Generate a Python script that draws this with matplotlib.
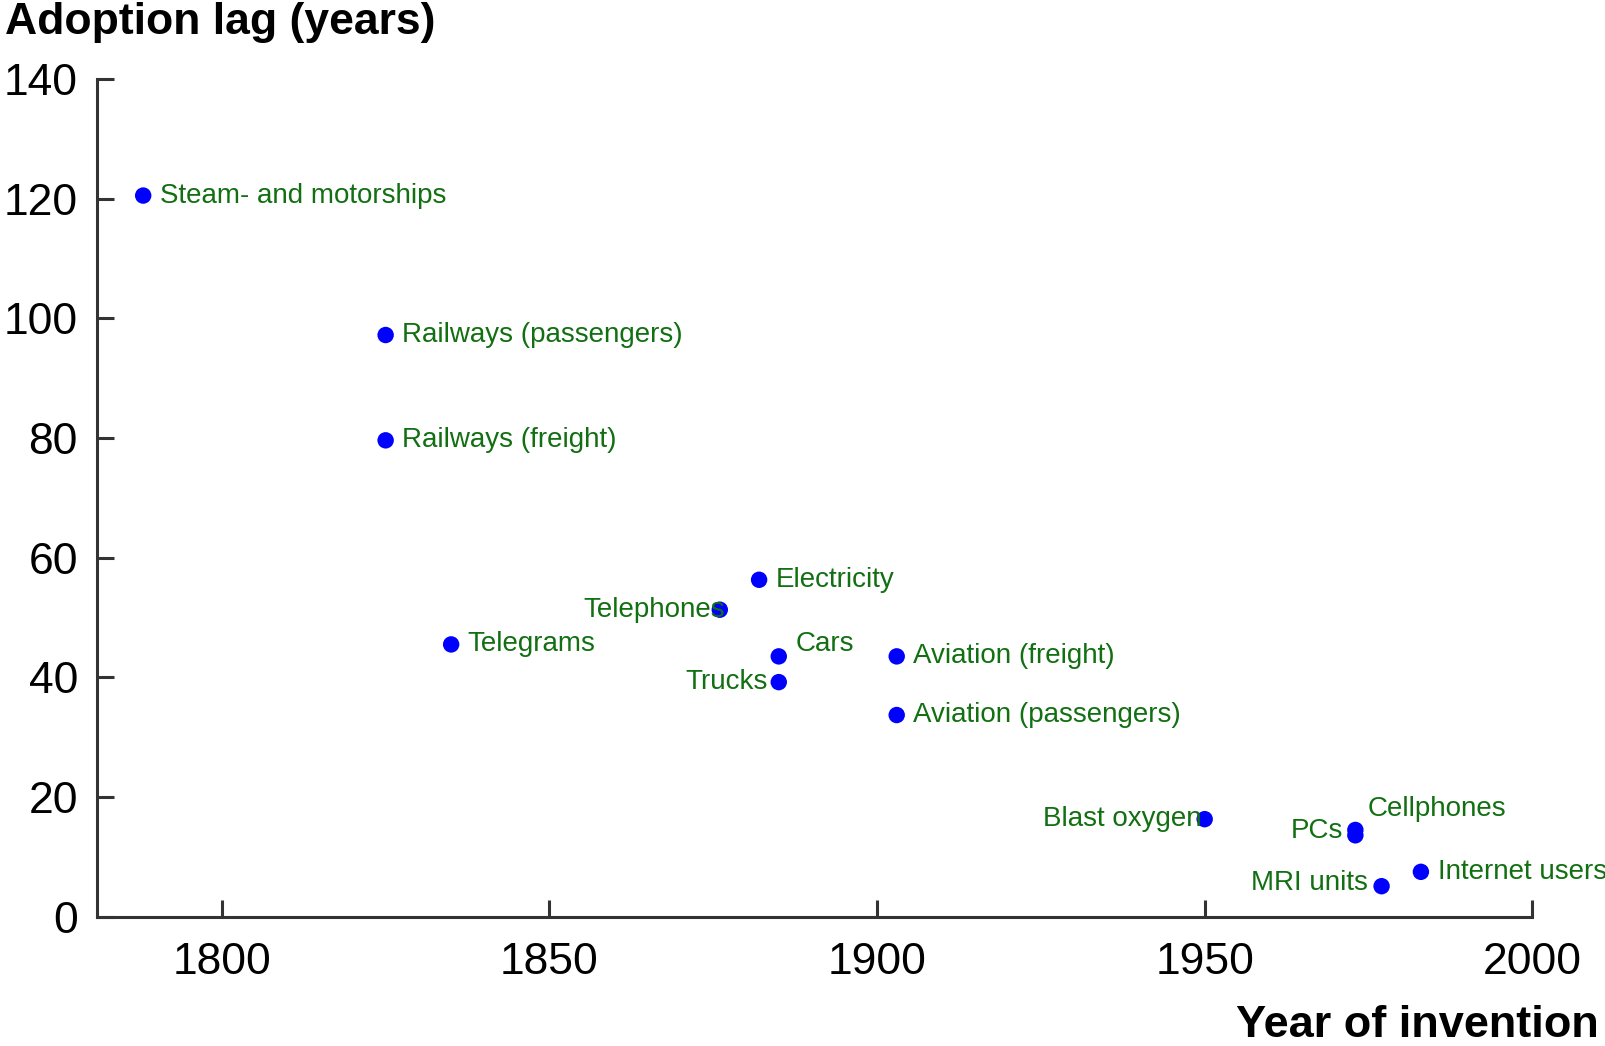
import matplotlib
matplotlib.use("Agg")
import matplotlib.pyplot as plt

# Adoption lag by technology
techs = ["Steam- and motorships", "Railways (passengers)", "Railways (freight)",
         "Telegrams", "Telephones", "Electricity", "Cars", "Trucks",
         "Aviation (freight)", "Aviation (passengers)", "Blast oxygen",
         "PCs", "Cellphones", "MRI units", "Internet users"]
years = [1788, 1825, 1825, 1835, 1876, 1882, 1885, 1885,
         1903, 1903, 1950, 1973, 1973, 1977, 1983]
lags = [120.5, 97.2, 79.6, 45.5, 51.3, 56.3, 43.5, 39.2,
        43.5, 33.7, 16.3, 13.6, 14.5, 5.1, 7.5]

# label placement: (dx, dy in points, horizontal alignment)
label_pos = {
    "Telephones": (4, 0, "right"),
    "Trucks": (-8, 0, "right"),
    "Cars": (12, 9, "left"),
    "Blast oxygen": (-2, 0, "right"),
    "PCs": (-9, 3, "right"),
    "Cellphones": (9, 15, "left"),
    "MRI units": (-10, 2, "right"),
}

plt.rcParams['font.family'] = ['Liberation Sans', 'DejaVu Sans']

fig = plt.figure(figsize=(16.06, 10.46), dpi=100)
ax = fig.add_axes([0.0606, 0.1236, 0.8935, 0.801])

ax.scatter(years, lags, s=140, color='#0000ff', zorder=3, edgecolors='none')

for name, x, y in zip(techs, years, lags):
    dx, dy, ha = label_pos.get(name, (12, 0, "left"))
    ax.annotate(name, xy=(x, y), xytext=(dx, dy), textcoords='offset points',
                ha=ha, va='center', fontsize=20, color='#127012', zorder=4)

ax.set_xlim(1781, 2000)
ax.set_ylim(0, 140)
ax.set_xticks([1800, 1850, 1900, 1950, 2000])
ax.set_yticks(range(0, 141, 20))

for side in ['top', 'right']:
    ax.spines[side].set_visible(False)
for side in ['left', 'bottom']:
    ax.spines[side].set_color('#333333')
    ax.spines[side].set_linewidth(2.2)

ax.tick_params(direction='in', length=12, width=2.2, color='#333333',
               labelsize=32, pad=14)
ax.tick_params(axis='x', pad=18)

fig.text(0.003, 0.998, 'Adoption lag (years)', ha='left', va='top',
         fontsize=32, fontweight='bold')
fig.text(0.9955, 0.0, 'Year of invention', ha='right', va='bottom',
         fontsize=32.5, fontweight='bold')

fig.savefig('out.png', dpi=100)
